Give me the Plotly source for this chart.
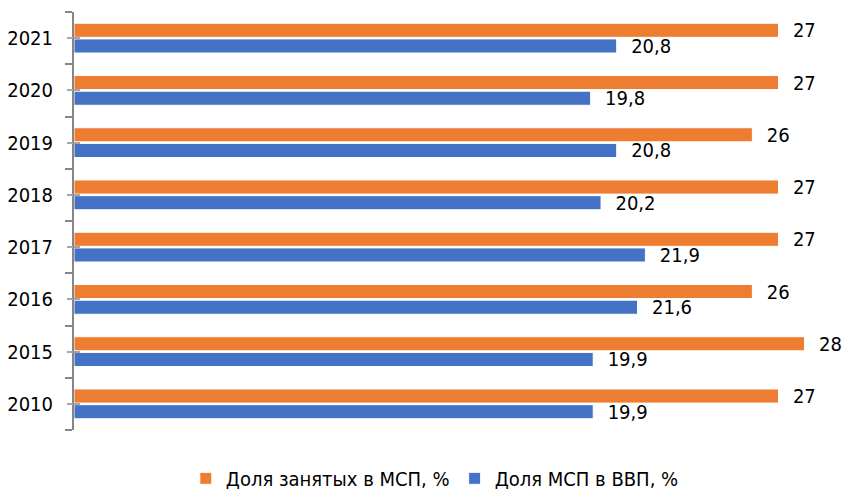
import plotly.graph_objects as go

years = ["2010", "2015", "2016", "2017", "2018", "2019", "2020", "2021"]
employment_share = [27, 28, 26, 27, 27, 26, 27, 27]
gdp_share = [19.9, 19.9, 21.6, 21.9, 20.2, 20.8, 19.8, 20.8]

name_emp = "Доля занятых в МСП, %"
name_gdp = "Доля МСП в ВВП, %"

FONT = "DejaVu Sans Condensed, Liberation Sans Narrow, Arial Narrow, Liberation Sans, Arial, sans-serif"
pad = "\u00a0\u00a0"

fig = go.Figure()
fig.add_trace(go.Bar(
    y=years, x=gdp_share, orientation="h", name=name_gdp,
    marker=dict(color="#4472C4", line=dict(color="white", width=1)),
    texttemplate=pad + "%{x:.1f}", textposition="outside",
    textfont=dict(size=20, color="black", family=FONT),
    constraintext="none", cliponaxis=False, legendrank=2,
))
fig.add_trace(go.Bar(
    y=years, x=employment_share, orientation="h", name=name_emp,
    marker=dict(color="#ED7D31", line=dict(color="white", width=1)),
    texttemplate=pad + "%{x}", textposition="outside",
    textfont=dict(size=20, color="black", family=FONT),
    constraintext="none", cliponaxis=False, legendrank=1,
))
# invisible helper traces so the overlay axes (centre tick marks) are drawn
for ax in ("y2", "y3"):
    fig.add_trace(go.Scatter(y=years, x=gdp_share, mode="none", yaxis=ax,
                             showlegend=False, hoverinfo="skip"))

fig.update_layout(
    width=845, height=491,
    margin=dict(l=74, r=0, t=12, b=61, autoexpand=False),
    barmode="group", bargap=0.4, bargroupgap=0.1,
    separators=", ",
    plot_bgcolor="white", paper_bgcolor="white",
    font=dict(family=FONT, size=20, color="black"),
    showlegend=True,
    legend=dict(orientation="h", x=0.468, xanchor="center", y=-0.069, yanchor="top",
                font=dict(size=20, family=FONT), itemwidth=30,
                traceorder="normal", tracegroupgap=0),
)
fig.update_xaxes(range=[0, 29.55], visible=False, showgrid=False, zeroline=False)
axis_common = dict(type="category", categoryorder="array", categoryarray=years,
                   range=[-0.5, len(years) - 0.5], showgrid=False, automargin=False)
fig.update_layout(
    yaxis=dict(**axis_common,
               showline=True, linecolor="#868686", linewidth=2,
               ticks="outside", tickson="boundaries", ticklen=7,
               tickcolor="#868686", tickwidth=2,
               tickfont=dict(size=20, family=FONT, color="black"),
               ticklabelstandoff=15),
    yaxis2=dict(**axis_common, overlaying="y", anchor="x", side="left",
                showline=False, ticks="outside", ticklen=6, tickwidth=2,
                tickcolor="#A6A6A6", showticklabels=False),
    yaxis3=dict(**axis_common, overlaying="y", anchor="x", side="left",
                showline=False, ticks="inside", ticklen=6, tickwidth=2,
                tickcolor="#A6A6A6", showticklabels=False),
)

fig.write_html(
    "out.html",
    config={"displayModeBar": False},
    post_script="document.body.style.margin='0';document.body.style.overflow='hidden';",
)
